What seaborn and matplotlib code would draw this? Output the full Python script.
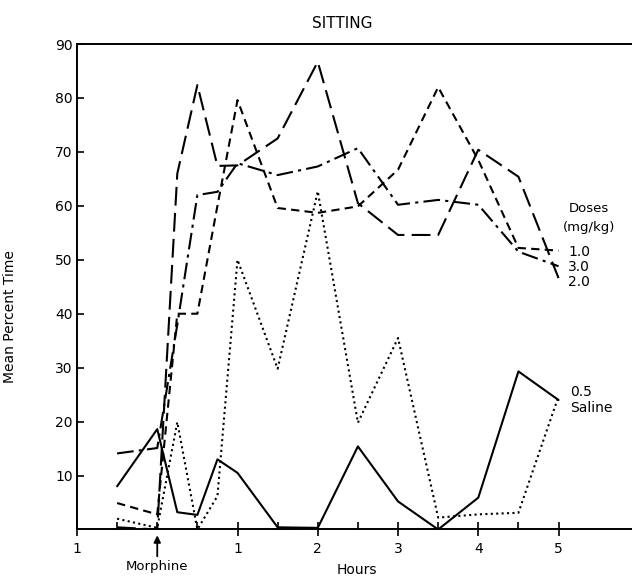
import numpy as np
import pandas as pd
import matplotlib
matplotlib.use("Agg")
import matplotlib.pyplot as plt
import seaborn as sns

# hours relative to morphine injection
hours = [-0.5, 0, 0.25, 0.5, 0.75, 1, 1.5, 2, 2.5, 3, 3.5, 4, 4.5, 5]

dose_05 = [8, 18.6, 3.2, 2.7, 13, 10.5, 0.4, 0.3, 15.4, 5.2, 0, 5.9, 29.3, 24]
saline = [2, 0.3, 19.9, 0, 6.2, 50, 29.8, 62.7, 19.8, 35.5, 2.2, 2.8, 3.1, 24.7]
dose_10 = [4.9, 2.8, 40, 40, 60, 79.6, 59.6, 58.7, 59.9, 66.7, 82, 68.5, 52.2, 51.7]
dose_20 = [0.4, 0, 66, 82.4, 67.4, 67.5, 72.5, 86.7, 60.5, 54.6, 54.6, 70.4, 65.4, 46.6]
dose_30 = [14.1, 15.1, 38, 62, 62.6, 67.9, 65.7, 67.3, 70.7, 60.2, 61.1, 60.2, 51.5, 48.8]

yticks = [10, 20, 30, 40, 50, 60, 70, 80, 90]
xticks = [-1, 1, 2, 3, 4, 5]
xtick_labels = ["1", "1", "2", "3", "4", "5"]

df = pd.DataFrame({
    "Hours": hours * 5,
    "pct": dose_05 + saline + dose_10 + dose_20 + dose_30,
    "dose": (["0.5"] * len(hours) + ["Saline"] * len(hours) + ["1.0"] * len(hours)
             + ["2.0"] * len(hours) + ["3.0"] * len(hours)),
})

sns.set_style("ticks")
plt.rcParams["font.family"] = ["DejaVu Sans"]
plt.rcParams["text.color"] = "black"
plt.rcParams["axes.labelcolor"] = "black"
plt.rcParams["xtick.color"] = "black"
plt.rcParams["ytick.color"] = "black"

fig = plt.figure(figsize=(6.32, 5.80), dpi=100)
ax = fig.add_axes([0.1218, 0.0871, 0.889, 0.837])

dash_styles = {
    "0.5": "",
    "Saline": (1, 1.6),
    "1.0": (4, 2.5),
    "2.0": (9, 3.5),
    "3.0": (8, 2.5, 1.5, 2.5),
}
sns.lineplot(data=df, x="Hours", y="pct", style="dose", dashes=dash_styles,
             color="black", linewidth=1.5, legend=False, ax=ax)

ax.set_xlim(-1, 6)
ax.set_ylim(0, 90)
ax.set_yticks(yticks)
ax.set_xticks(xticks)
ax.set_xticklabels(xtick_labels)
ax.set_xticks([-0.5, 0, 0.5, 1.5, 2.5, 3.5, 4.5], minor=True)
ax.tick_params(axis="y", direction="in", length=5, width=1.2, labelsize=10, pad=3)
ax.tick_params(axis="x", which="major", direction="inout", length=10, width=1.2,
               labelsize=10, pad=4)
ax.tick_params(axis="x", which="minor", direction="in", length=5, width=1.2)
for s in ["left", "bottom", "top"]:
    ax.spines[s].set_linewidth(1.4)
    ax.spines[s].set_color("black")
ax.spines["right"].set_visible(False)

ax.set_ylabel("Mean Percent Time", fontsize=10)
ax.yaxis.set_label_coords(-0.107, 0.438)
ax.set_xlabel("Hours", fontsize=10)
ax.xaxis.set_label_coords(0.498, -0.07)

ax.text(0.473, 1.043, "SITTING", transform=ax.transAxes, ha="center", va="center",
        fontsize=11)

ax.annotate("Morphine", xy=(0, -0.012), xycoords=ax.get_xaxis_transform(),
            xytext=(0, -0.062), textcoords=ax.get_xaxis_transform(),
            ha="center", va="top", fontsize=9.5,
            arrowprops=dict(arrowstyle="-|>", color="black", lw=1.3,
                            mutation_scale=10, shrinkA=0, shrinkB=0))

# dose labels at the line ends
ax.text(5.38, 59.5, "Doses", ha="center", va="center", fontsize=9.5)
ax.text(5.38, 55.9, "(mg/kg)", ha="center", va="center", fontsize=9.5)
ax.text(5.12, 51.5, "1.0", ha="left", va="center", fontsize=10)
ax.text(5.12, 48.7, "3.0", ha="left", va="center", fontsize=10)
ax.text(5.12, 45.9, "2.0", ha="left", va="center", fontsize=10)
ax.text(5.14, 25.5, "0.5", ha="left", va="center", fontsize=10)
ax.text(5.14, 22.5, "Saline", ha="left", va="center", fontsize=10)

fig.savefig("out.png", dpi=100)
